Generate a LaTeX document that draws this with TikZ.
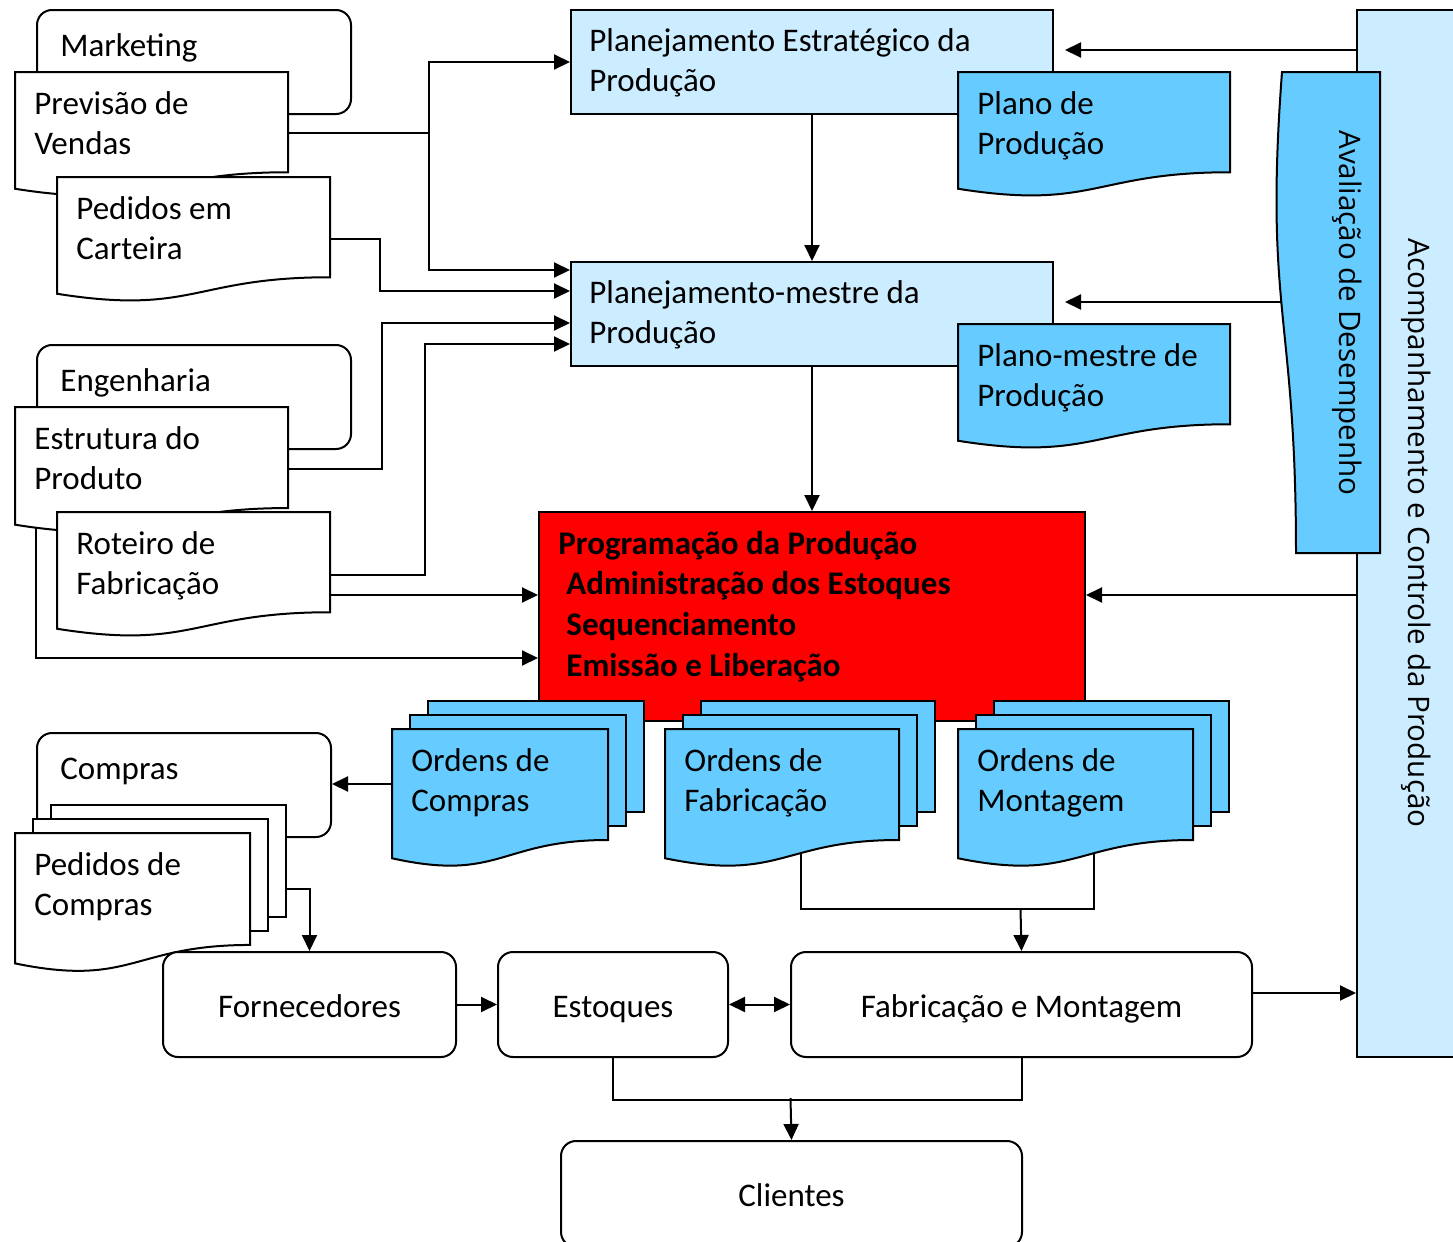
\documentclass[tikz,border=0pt]{standalone}
\usepackage{fontspec}
\setmainfont{Carlito}
\newfontfamily\osans{Open Sans}
\usetikzlibrary{calc,arrows.meta}
\pgfdeclarelayer{bg}
\pgfsetlayers{bg,main}
\definecolor{lblue}{HTML}{CCECFF}
\definecolor{dblue}{HTML}{66CCFF}
\tikzset{
  lw/.style={line width=1pt},
  arr/.style={line width=1pt, -{Triangle[length=8pt,width=7.5pt]}},
  darr/.style={line width=1pt, {Triangle[length=8pt,width=7.5pt]}-{Triangle[length=8pt,width=7.5pt]}},
  txt/.style={align=left, inner sep=0, anchor=base west},
  rbox/.style={draw, line width=1pt, fill=white, rounded corners=7.5pt, inner sep=0, anchor=north west},
  cbox/.style={rbox, text height=14pt, text depth=1.5pt},
  sbox/.style={draw, line width=1pt, inner sep=0, anchor=north west},
  rot/.style={font=\osans\fontsize{14.8}{18}\selectfont, rotate=-90, inner sep=0},
}
% document shape: name, x, y, w, h, fill, text (two lines; base anchor = last line)
\newcommand\docshape[7]{%
  \path[draw, fill=#6, line width=1pt] (#2,#3) -- ({#2+#4},#3) -- ({#2+#4},{#3+0.802*#5})
    .. controls ({#2+0.5*#4},{#3+0.802*#5}) and ({#2+0.5*#4},{#3+1.1075*#5}) .. (#2,{#3+0.934*#5}) -- cycle;
  \node[inner sep=0, anchor=north west, minimum width={#4*0.5pt}, minimum height={0.802*#5*0.5pt}] (#1) at (#2,#3) {};
  \node[txt] (#1-t) at ({#2+19},{#3+82}) {#7};
}
\newcommand\multidoc[7]{%
  \draw[lw, fill=#6] ({#2+36},{#3-28}) rectangle ({#2+36+#4},{#3-28+0.802*#5});
  \draw[lw, fill=#6] ({#2+18},{#3-14}) rectangle ({#2+18+#4},{#3-14+0.802*#5});
  \docshape{#1}{#2}{#3}{#4}{#5}{#6}{#7}
}
\begin{document}
\begin{tikzpicture}[x=0.5pt,y=-0.5pt, font=\fontsize{16.5}{20}\selectfont]
\useasboundingbox (0,0) rectangle (1453,1242);

% right column
\node[sbox, fill=lblue, minimum width=55pt, minimum height=523.5pt] (acc) at (1356,9) {};
\node[rot] (acc-t) at (1416,533) {Acompanhamento e Controle da Produção};
\path[draw, fill=dblue, line width=1pt] (1282,72) -- (1380,72) -- (1380,553) -- (1296,553)
  .. controls (1296,312) and (1264,312) .. (1282,72) -- cycle;
\node[inner sep=0, anchor=north west, minimum width=42pt, minimum height=240.5pt] (av) at (1296,72) {};
\node[rot] (av-t) at (1347,313) {Avaliação de Desempenho};

% top left
\node[rbox, minimum width=157pt, minimum height=52pt] (mk) at (36,9) {};
\node[txt] (mk-t) at (60,56) {Marketing};
\docshape{pv}{15}{72}{273}{125}{white}{Previsão de\\Vendas}
\docshape{pc}{57}{177}{273}{125}{white}{Pedidos em\\Carteira}

\node[rbox, minimum width=157pt, minimum height=52pt] (en) at (36,344) {};
\node[txt] (en-t) at (60,391) {Engenharia};
\docshape{ep}{15}{407}{273}{126}{white}{Estrutura do\\Produto}
\docshape{rf}{57}{512}{273}{125}{white}{Roteiro de\\Fabricação}

% planning
\node[sbox, fill=lblue, minimum width=241pt, minimum height=52pt] (pe) at (570,9) {};
\node[txt] (pe-t) at (589,91) {Planejamento Estratégico da\\Produção};
\docshape{pp}{958}{72}{272}{125}{dblue}{Plano de\\Produção}
\node[sbox, fill=lblue, minimum width=241pt, minimum height=52pt] (pm) at (570,261) {};
\node[txt] (pm-t) at (589,343) {Planejamento-mestre da\\Produção};
\docshape{pmp}{958}{324}{272}{125}{dblue}{Plano-mestre de\\Produção}

% programming
\node[sbox, fill=red, minimum width=273pt, minimum height=104.5pt] (red) at (538,511) {};
\node[txt, font=\bfseries\fontsize{16.5}{20.3}\selectfont] (red-t) at (558,676)
  {Programação da Produção\\\hspace*{4pt}Administração dos Estoques\\\hspace*{4pt}Sequenciamento\\\hspace*{4pt}Emissão e Liberação};

% orders
\multidoc{oc}{392}{729}{216}{138.4}{dblue}{Ordens de\\Compras}
\multidoc{of}{665}{729}{234}{138.4}{dblue}{Ordens de\\Fabricação}
\multidoc{om}{958}{729}{235}{138.4}{dblue}{Ordens de\\Montagem}

% purchases
\node[rbox, minimum width=147pt, minimum height=52pt] (cp) at (36,732) {};
\node[txt] (cp-t) at (60,779) {Compras};
\multidoc{pdc}{15}{833}{235}{139.6}{white}{Pedidos de\\Compras}

% bottom row
\node[cbox, minimum width=146.5pt, minimum height=52.5pt] (fo) at (162,951) {Fornecedores};
\node[cbox, minimum width=115pt, minimum height=52.5pt] (es) at (497,951) {Estoques};
\node[cbox, minimum width=230.5pt, minimum height=52.5pt] (fab) at (790,951) {Fabricação e Montagem};
\node[cbox, minimum width=230.5pt, minimum height=53pt] (cl) at (560,1140) {Clientes};

\begin{pgfonlayer}{bg}
  \draw[arr] (pe.south) -- (pm.north);
  \draw[arr] (pm.south) -- (red.north);
  % previsao
  \coordinate (j1) at (429,133);
  \draw[lw] ($(pv.north east)+(0,61)$) -- (j1);
  \draw[arr] (j1) |- (pe.west);
  \draw[arr] (j1) |- ($(pm.north west)+(0,9)$);
  % pedidos em carteira
  \draw[arr] ($(pc.north east)+(0,62)$) -- (380,239) |- ($(pm.north west)+(0,30)$);
  % estrutura
  \draw[arr] ($(ep.north east)+(0,62)$) -- (382,469) |- ($(pm.north west)+(0,62)$);
  % roteiro
  \draw[arr] ($(rf.north east)+(0,63)$) -- (425,575) |- ($(pm.north west)+(0,83)$);
  \draw[arr] ($(rf.north east)+(0,83)$) -- ($(red.north west)+(0,84)$);
  % engenharia
  \coordinate (e1) at (36,518);
  \draw[arr] (e1) |- ($(red.north west)+(0,147)$);
  % right column feedback
  \draw[arr] ($(acc.north west)+(0,41)$) -- ($(pe.north east)+(11,41)$);
  \draw[arr] ($(av.north west)+(0,230)$) -- ($(pm.north east)+(11,41)$);
  \draw[arr] ($(acc.north west)+(0,586)$) -- ($(red.north east)+(0,84)$);
  \draw[arr] ($(fab.north east)+(0,42)$) -- ($(acc.north west)+(0,984)$);
  % purchases
  \draw[arr] ($(oc.north west)+(0,55)$) -- ($(cp.north east)+(0,52)$);
  \draw[arr] ($(pdc.north east)+(36,56)$) -| (fo.north);
  % orders to manufacturing
  \draw[lw] ($(of.north west)+(136,100)$) |- ($(om.north west)+(136,180)$) -- ($(om.north west)+(136,100)$);
  \coordinate (jm) at (1020.5,909);
  \draw[arr] (jm) -- (fab.north);
  % bottom row
  \draw[arr] (fo.east) -- (es.west);
  \draw[darr] (es.east) -- (fab.west);
  \draw[lw] (es.south) -- ++(0,42) -| (fab.south);
  \coordinate (jc) at (790.5,1098);
  \draw[arr] (jc) -- (cl.north);
\end{pgfonlayer}
\end{tikzpicture}
\end{document}
